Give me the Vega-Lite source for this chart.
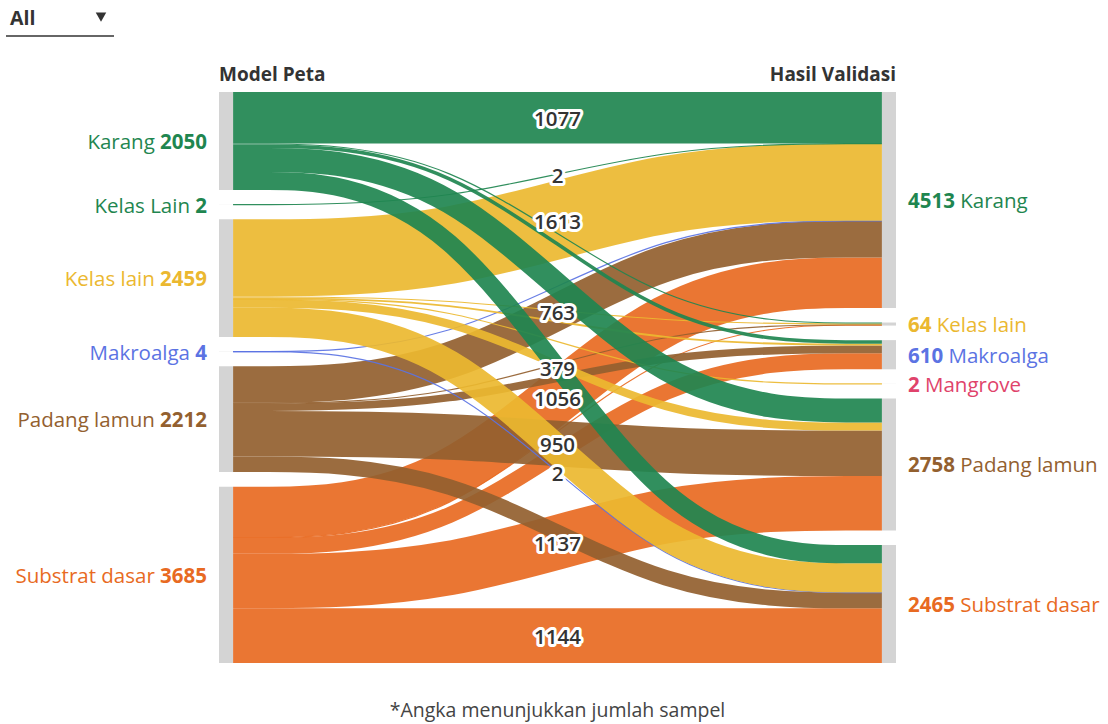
{
  "$schema": "https://vega.github.io/schema/vega-lite/v6.json",
  "width": 677,
  "height": 571,
  "autosize": {"type": "none"},
  "padding": {"left": 219, "top": 92, "right": 212, "bottom": 61},
  "background": "white",
  "config": {"view": {"stroke": null}, "font": "Open Sans", "text": {"font": "Open Sans"}},
  "datasets": {
    "links": [
      {"source": "Substrat dasar", "target": "Substrat dasar", "so": 5, "to": 5, "value": 1144},
      {"source": "Substrat dasar", "target": "Padang lamun", "so": 5, "to": 4, "value": 1137},
      {"source": "Substrat dasar", "target": "Makroalga", "so": 5, "to": 2, "value": 336},
      {"source": "Substrat dasar", "target": "Kelas lain", "so": 5, "to": 1, "value": 12},
      {"source": "Substrat dasar", "target": "Karang", "so": 5, "to": 0, "value": 1056},
      {"source": "Padang lamun", "target": "Substrat dasar", "so": 4, "to": 5, "value": 327},
      {"source": "Padang lamun", "target": "Padang lamun", "so": 4, "to": 4, "value": 950},
      {"source": "Padang lamun", "target": "Makroalga", "so": 4, "to": 2, "value": 160},
      {"source": "Padang lamun", "target": "Kelas lain", "so": 4, "to": 1, "value": 12},
      {"source": "Padang lamun", "target": "Karang", "so": 4, "to": 0, "value": 763},
      {"source": "Makroalga", "target": "Substrat dasar", "so": 3, "to": 5, "value": 2},
      {"source": "Makroalga", "target": "Karang", "so": 3, "to": 0, "value": 2},
      {"source": "Kelas lain", "target": "Substrat dasar", "so": 2, "to": 5, "value": 613},
      {"source": "Kelas lain", "target": "Padang lamun", "so": 2, "to": 4, "value": 171},
      {"source": "Kelas lain", "target": "Mangrove", "so": 2, "to": 3, "value": 2},
      {"source": "Kelas lain", "target": "Makroalga", "so": 2, "to": 2, "value": 40},
      {"source": "Kelas lain", "target": "Kelas lain", "so": 2, "to": 1, "value": 20},
      {"source": "Kelas lain", "target": "Karang", "so": 2, "to": 0, "value": 1613},
      {"source": "Kelas Lain", "target": "Karang", "so": 1, "to": 0, "value": 2},
      {"source": "Karang", "target": "Substrat dasar", "so": 0, "to": 5, "value": 379},
      {"source": "Karang", "target": "Padang lamun", "so": 0, "to": 4, "value": 500},
      {"source": "Karang", "target": "Makroalga", "so": 0, "to": 2, "value": 74},
      {"source": "Karang", "target": "Kelas lain", "so": 0, "to": 1, "value": 20},
      {"source": "Karang", "target": "Karang", "so": 0, "to": 0, "value": 1077}
    ],
    "ui": [{"label": "All"}],
    "note": [{"text": "*Angka menunjukkan jumlah sampel"}],
    "heads": [{"left": "Model Peta", "right": "Hasil Validasi"}]
  },
  "layer": [
    {
      "data": {"name": "links"},
      "transform": [
        {"window": [{"op": "sum", "field": "value", "as": "sCum"}], "sort": [{"field": "so"}, {"field": "to"}], "frame": [null, 0]},
        {"window": [{"op": "sum", "field": "value", "as": "tCum"}], "sort": [{"field": "to"}, {"field": "so"}], "frame": [null, 0]},
        {"calculate": "datum.sCum - datum.value/2 + datum.so*304", "as": "ys"},
        {"calculate": "datum.tCum - datum.value/2 + datum.to*304", "as": "yt"},
        {"calculate": "datum.source + '>' + datum.target", "as": "link"},
        {"calculate": "max(datum.value, 24)", "as": "w"},
        {"calculate": "datum.ys", "as": "p0"},
        {"calculate": "datum.ys", "as": "p1"},
        {"calculate": "datum.yt", "as": "p2"},
        {"calculate": "datum.yt", "as": "p3"},
        {"fold": ["p0", "p1", "p2", "p3"], "as": ["pt", "yv"]},
        {"calculate": "indexof(['p0','p1','p2','p3'], datum.pt)", "as": "xi"}
      ],
      "mark": {"type": "line", "interpolate": "basis", "opacity": 0.92, "strokeCap": "butt"},
      "encoding": {
        "x": {"field": "xi", "type": "quantitative", "scale": {"domain": [-0.065, 3.065], "nice": false, "zero": false}, "axis": null},
        "y": {"field": "yv", "type": "quantitative", "scale": {"domain": [0, 11932], "reverse": true, "nice": false, "zero": false}, "axis": null},
        "detail": {"field": "link", "type": "nominal"},
        "color": {"field": "source", "type": "nominal", "legend": null,
          "scale": {"domain": ["Karang", "Kelas Lain", "Kelas lain", "Makroalga", "Mangrove", "Padang lamun", "Substrat dasar"],
                    "range": ["#1f8650", "#1f8650", "#ebb830", "#5b73e3", "#e0436b", "#93602f", "#e86a22"]}},
        "strokeWidth": {"field": "w", "type": "quantitative", "legend": null, "scale": {"domain": [0, 11932], "range": [0, 571], "nice": false, "zero": true}}
      }
    },
    {
      "data": {"name": "links"},
      "transform": [
        {"aggregate": [{"op": "sum", "field": "value", "as": "v"}], "groupby": ["source", "so"]},
        {"window": [{"op": "sum", "field": "v", "as": "cum"}], "sort": [{"field": "so"}], "frame": [null, 0]},
        {"calculate": "datum.cum - datum.v + datum.so*304", "as": "y0"},
        {"calculate": "datum.cum + datum.so*304", "as": "y1"}
      ],
      "mark": {"type": "rect", "color": "#d4d4d4"},
      "encoding": {
        "x": {"datum": -0.065, "type": "quantitative", "scale": {"domain": [-0.065, 3.065], "nice": false, "zero": false}, "axis": null},
        "x2": {"datum": 0},
        "y": {"field": "y0", "type": "quantitative", "scale": {"domain": [0, 11932], "reverse": true, "nice": false, "zero": false}, "axis": null},
        "y2": {"field": "y1"}
      }
    },
    {
      "data": {"name": "links"},
      "transform": [
        {"aggregate": [{"op": "sum", "field": "value", "as": "v"}], "groupby": ["target", "to"]},
        {"window": [{"op": "sum", "field": "v", "as": "cum"}], "sort": [{"field": "to"}], "frame": [null, 0]},
        {"calculate": "datum.cum - datum.v + datum.to*304", "as": "y0"},
        {"calculate": "datum.cum + datum.to*304", "as": "y1"}
      ],
      "mark": {"type": "rect", "color": "#d4d4d4"},
      "encoding": {
        "x": {"datum": 3, "type": "quantitative", "scale": {"domain": [-0.065, 3.065], "nice": false, "zero": false}, "axis": null},
        "x2": {"datum": 3.065},
        "y": {"field": "y0", "type": "quantitative", "scale": {"domain": [0, 11932], "reverse": true, "nice": false, "zero": false}, "axis": null},
        "y2": {"field": "y1"}
      }
    },
    {
      "data": {"name": "links"},
      "transform": [
        {"aggregate": [{"op": "sum", "field": "value", "as": "v"}], "groupby": ["source", "so"]},
        {"window": [{"op": "sum", "field": "v", "as": "cum"}], "sort": [{"field": "so"}], "frame": [null, 0]},
        {"calculate": "datum.cum - datum.v/2 + datum.so*304", "as": "ym"}
      ],
      "layer": [
        {
          "mark": {"type": "text", "align": "right", "baseline": "middle", "dx": -12, "dy": 2, "fontSize": 20.5, "fontWeight": "bold", "font": "Open Sans"},
          "encoding": {"text": {"field": "v", "type": "quantitative", "format": "d"}}
        },
        {
          "transform": [{"filter": "datum.v >= 1000"}],
          "mark": {"type": "text", "align": "right", "baseline": "middle", "dx": -64.2, "dy": 2, "fontSize": 20.5, "font": "Open Sans"},
          "encoding": {"text": {"field": "source"}}
        },
        {
          "transform": [{"filter": "datum.v < 10"}],
          "mark": {"type": "text", "align": "right", "baseline": "middle", "dx": -29, "dy": 2, "fontSize": 20.5, "font": "Open Sans"},
          "encoding": {"text": {"field": "source"}}
        }
      ],
      "encoding": {
        "x": {"datum": -0.065, "type": "quantitative", "scale": {"domain": [-0.065, 3.065], "nice": false, "zero": false}, "axis": null},
        "y": {"field": "ym", "type": "quantitative", "scale": {"domain": [0, 11932], "reverse": true, "nice": false, "zero": false}, "axis": null},
        "color": {"field": "source", "type": "nominal", "legend": null,
          "scale": {"domain": ["Karang", "Kelas Lain", "Kelas lain", "Makroalga", "Mangrove", "Padang lamun", "Substrat dasar"],
                    "range": ["#1f8650", "#1f8650", "#ebb830", "#5b73e3", "#e0436b", "#93602f", "#e86a22"]}}
      }
    },
    {
      "data": {"name": "links"},
      "transform": [
        {"aggregate": [{"op": "sum", "field": "value", "as": "v"}], "groupby": ["target", "to"]},
        {"window": [{"op": "sum", "field": "v", "as": "cum"}], "sort": [{"field": "to"}], "frame": [null, 0]},
        {"calculate": "datum.cum - datum.v/2 + datum.to*304", "as": "ym"}
      ],
      "layer": [
        {
          "mark": {"type": "text", "align": "left", "baseline": "middle", "dx": 12, "dy": 2, "fontSize": 20.5, "fontWeight": "bold", "font": "Open Sans"},
          "encoding": {"text": {"field": "v", "type": "quantitative", "format": "d"}}
        },
        {
          "transform": [{"filter": "datum.v >= 1000"}],
          "mark": {"type": "text", "align": "left", "baseline": "middle", "dx": 64.2, "dy": 2, "fontSize": 20.5, "font": "Open Sans"},
          "encoding": {"text": {"field": "target"}}
        },
        {
          "transform": [{"filter": "datum.v >= 100 && datum.v < 1000"}],
          "mark": {"type": "text", "align": "left", "baseline": "middle", "dx": 52.5, "dy": 2, "fontSize": 20.5, "font": "Open Sans"},
          "encoding": {"text": {"field": "target"}}
        },
        {
          "transform": [{"filter": "datum.v >= 10 && datum.v < 100"}],
          "mark": {"type": "text", "align": "left", "baseline": "middle", "dx": 40.8, "dy": 2, "fontSize": 20.5, "font": "Open Sans"},
          "encoding": {"text": {"field": "target"}}
        },
        {
          "transform": [{"filter": "datum.v < 10"}],
          "mark": {"type": "text", "align": "left", "baseline": "middle", "dx": 29, "dy": 2, "fontSize": 20.5, "font": "Open Sans"},
          "encoding": {"text": {"field": "target"}}
        }
      ],
      "encoding": {
        "x": {"datum": 3.065, "type": "quantitative", "scale": {"domain": [-0.065, 3.065], "nice": false, "zero": false}, "axis": null},
        "y": {"field": "ym", "type": "quantitative", "scale": {"domain": [0, 11932], "reverse": true, "nice": false, "zero": false}, "axis": null},
        "color": {"field": "target", "type": "nominal", "legend": null,
          "scale": {"domain": ["Karang", "Kelas Lain", "Kelas lain", "Makroalga", "Mangrove", "Padang lamun", "Substrat dasar"],
                    "range": ["#1f8650", "#1f8650", "#ebb830", "#5b73e3", "#e0436b", "#93602f", "#e86a22"]}}
      }
    },
    {
      "data": {"name": "links"},
      "transform": [
        {"window": [{"op": "sum", "field": "value", "as": "sCum"}], "sort": [{"field": "so"}, {"field": "to"}], "frame": [null, 0]},
        {"window": [{"op": "sum", "field": "value", "as": "tCum"}], "sort": [{"field": "to"}, {"field": "so"}], "frame": [null, 0]},
        {"calculate": "(datum.sCum - datum.value/2 + datum.so*304 + datum.tCum - datum.value/2 + datum.to*304)/2", "as": "ym"},
        {"calculate": "datum.source + '>' + datum.target", "as": "link"},
        {"filter": {"field": "link", "oneOf": ["Karang>Karang", "Kelas Lain>Karang", "Kelas lain>Karang", "Padang lamun>Karang", "Karang>Substrat dasar", "Substrat dasar>Karang", "Padang lamun>Padang lamun", "Makroalga>Substrat dasar", "Substrat dasar>Padang lamun", "Substrat dasar>Substrat dasar"]}}
      ],
      "layer": [
        {"mark": {"type": "text", "align": "center", "baseline": "middle", "dy": 2.5, "fontSize": 20.5, "fontWeight": 600, "font": "Open Sans", "fill": "white", "stroke": "white", "strokeWidth": 6, "strokeJoin": "round"}},
        {"mark": {"type": "text", "align": "center", "baseline": "middle", "dy": 2.5, "fontSize": 20.5, "fontWeight": 600, "font": "Open Sans", "fill": "#333333"}}
      ],
      "encoding": {
        "x": {"datum": 1.5, "type": "quantitative", "scale": {"domain": [-0.065, 3.065], "nice": false, "zero": false}, "axis": null},
        "y": {"field": "ym", "type": "quantitative", "scale": {"domain": [0, 11932], "reverse": true, "nice": false, "zero": false}, "axis": null},
        "text": {"field": "value", "type": "quantitative", "format": "d"}
      }
    },
    {
      "data": {"name": "heads"},
      "layer": [
        {
          "mark": {"type": "text", "align": "left", "baseline": "middle", "dy": -17, "fontSize": 19, "fontWeight": "bold", "font": "Open Sans", "color": "#333333"},
          "encoding": {
            "x": {"datum": -0.065, "type": "quantitative", "scale": {"domain": [-0.065, 3.065], "nice": false, "zero": false}, "axis": null},
            "y": {"datum": 0, "type": "quantitative", "scale": {"domain": [0, 11932], "reverse": true, "nice": false, "zero": false}, "axis": null},
            "text": {"field": "left"}
          }
        },
        {
          "mark": {"type": "text", "align": "right", "baseline": "middle", "dy": -17, "fontSize": 19, "fontWeight": "bold", "font": "Open Sans", "color": "#333333"},
          "encoding": {
            "x": {"datum": 3.065, "type": "quantitative", "scale": {"domain": [-0.065, 3.065], "nice": false, "zero": false}, "axis": null},
            "y": {"datum": 0, "type": "quantitative", "scale": {"domain": [0, 11932], "reverse": true, "nice": false, "zero": false}, "axis": null},
            "text": {"field": "right"}
          }
        }
      ]
    },
    {
      "data": {"name": "note"},
      "mark": {"type": "text", "align": "center", "baseline": "middle", "dy": 48, "fontSize": 19.5, "font": "Open Sans", "color": "#444444"},
      "encoding": {
        "x": {"datum": 1.5, "type": "quantitative", "scale": {"domain": [-0.065, 3.065], "nice": false, "zero": false}, "axis": null},
        "y": {"datum": 11932, "type": "quantitative", "scale": {"domain": [0, 11932], "reverse": true, "nice": false, "zero": false}, "axis": null},
        "text": {"field": "text"}
      }
    },
    {
      "data": {"name": "ui"},
      "layer": [
        {
          "mark": {"type": "text", "align": "left", "baseline": "middle", "fontSize": 19.5, "fontWeight": "bold", "font": "Open Sans", "color": "#333333"},
          "encoding": {
            "x": {"datum": -1.0313, "type": "quantitative", "scale": {"domain": [-0.065, 3.065], "nice": false, "zero": false}, "axis": null},
            "y": {"datum": -1525, "type": "quantitative", "scale": {"domain": [0, 11932], "reverse": true, "nice": false, "zero": false}, "axis": null},
            "text": {"field": "label"}
          }
        },
        {
          "mark": {"type": "point", "shape": "triangle-down", "filled": true, "size": 110, "color": "#333333", "opacity": 1},
          "encoding": {
            "x": {"datum": -0.6106, "type": "quantitative", "scale": {"domain": [-0.065, 3.065], "nice": false, "zero": false}, "axis": null},
            "y": {"datum": -1565, "type": "quantitative", "scale": {"domain": [0, 11932], "reverse": true, "nice": false, "zero": false}, "axis": null}
          }
        },
        {
          "mark": {"type": "rule", "color": "#333333", "strokeWidth": 1.5},
          "encoding": {
            "x": {"datum": -1.0498, "type": "quantitative", "scale": {"domain": [-0.065, 3.065], "nice": false, "zero": false}, "axis": null},
            "x2": {"datum": -0.5505},
            "y": {"datum": -1170, "type": "quantitative", "scale": {"domain": [0, 11932], "reverse": true, "nice": false, "zero": false}, "axis": null}
          }
        }
      ]
    }
  ]
}
